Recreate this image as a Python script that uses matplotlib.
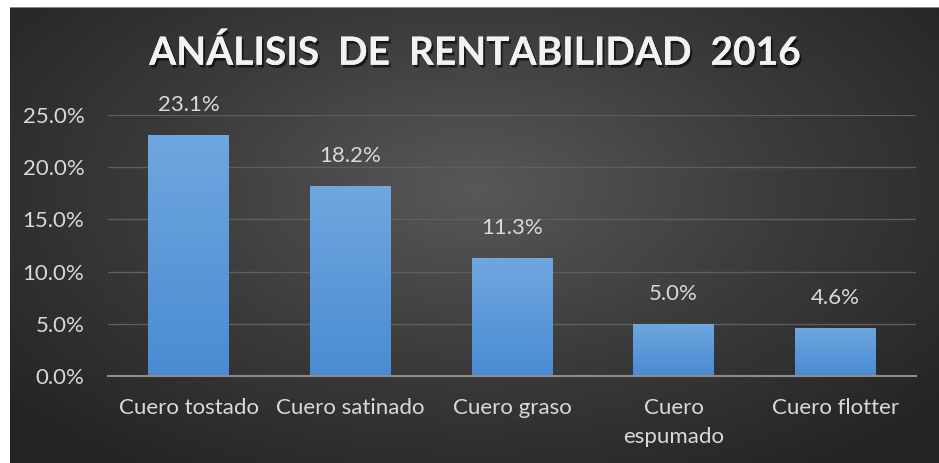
import numpy as np
import matplotlib.pyplot as plt
import matplotlib.patheffects as pe
from matplotlib.colors import LinearSegmentedColormap

plt.rcParams['font.family'] = ['Lato', 'DejaVu Sans']

# Data
categories = ["Cuero tostado", "Cuero satinado", "Cuero graso", "Cuero\nespumado", "Cuero flotter"]
values = [0.231, 0.182, 0.113, 0.050, 0.046]
yticks = [0.0, 0.05, 0.10, 0.15, 0.20, 0.25]
title = "ANÁLISIS  DE  RENTABILIDAD  2016"

TEXT = "#d9d9d9"

fig = plt.figure(figsize=(9.39, 4.63), dpi=100)
fig.patch.set_facecolor("white")

# dark radial-gradient panel behind everything
bg = fig.add_axes([10 / 939, 0, 1 - 10 / 939, 1 - 7 / 463], zorder=0)
yy, xx = np.mgrid[0:1:300j, 0:1:600j]
r = np.sqrt(((xx - 0.5) / 0.75) ** 2 + ((yy - 0.6) / 0.85) ** 2)
bg_cmap = LinearSegmentedColormap.from_list("bg", ["#585858", "#3b3b3b", "#232323"])
bg.imshow(np.clip(r / 0.9, 0, 1), cmap=bg_cmap, aspect="auto",
          extent=[0, 1, 0, 1], vmin=0, vmax=1, origin="lower")
bg.set_axis_off()
bg.axhline(1, color="#9a9a9a", lw=1.2)

ax = fig.add_axes([108 / 939, 1 - 376 / 463, (916 - 108) / 939, (376 - 115) / 463], zorder=1)
ax.patch.set_alpha(0)

x = np.arange(len(categories))
bars = ax.bar(x, values, width=0.5, color="#5b9bd5", zorder=3)

# vertical gradient on each bar
bar_cmap = LinearSegmentedColormap.from_list("bar", ["#4a8bd3", "#6fa7df"])
grad = np.linspace(0, 1, 100).reshape(-1, 1)
for b in bars:
    x0, w, h = b.get_x(), b.get_width(), b.get_height()
    im = ax.imshow(grad, cmap=bar_cmap, aspect="auto", origin="lower",
                   extent=[x0, x0 + w, 0, h], zorder=3)
    im.set_clip_path(b)

for xi, v in zip(x, values):
    ax.text(xi, v + 0.019, f"{v * 100:.1f}%", ha="center", va="bottom",
            fontsize=16, color=TEXT, zorder=4)

ax.set_xlim(-0.5, len(categories) - 0.5)
ax.set_ylim(0, 0.25)
ax.set_yticks(yticks)
ax.set_yticklabels([f"{t * 100:.1f}%" for t in yticks])
ax.set_xticks(x)
ax.set_xticklabels(categories, linespacing=1.55)
ax.tick_params(axis="both", length=0, labelsize=16, colors=TEXT)
ax.tick_params(axis="x", pad=16)
ax.tick_params(axis="y", pad=17)

ax.grid(axis="y", color="#5e5e5e", lw=1, zorder=1)
ax.set_axisbelow(True)
for s in ["top", "right", "left"]:
    ax.spines[s].set_visible(False)
ax.spines["bottom"].set_color("#8c8c8c")
ax.spines["bottom"].set_linewidth(1.5)
ax.spines["bottom"].set_zorder(5)

fig.text(475 / 939, 1 - 53 / 463, title, ha="center", va="center",
         fontsize=28, fontweight="bold", color="#f2f2f2", zorder=5,
         path_effects=[pe.withSimplePatchShadow(offset=(1.5, -2), shadow_rgbFace="black", alpha=0.6),
                       pe.Normal()])

fig.savefig("out.png", dpi=100)
